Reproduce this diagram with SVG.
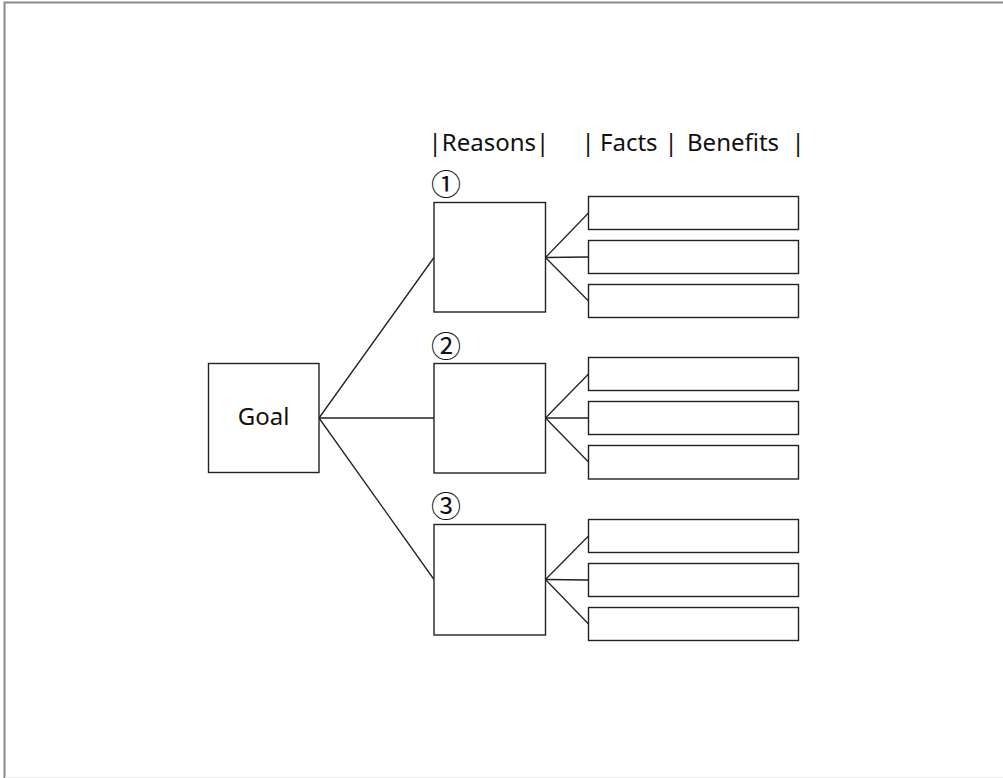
<svg xmlns="http://www.w3.org/2000/svg" width="1003" height="778" viewBox="0 0 1003 778">
  <style>
    .box { fill: #fff; stroke: #222; stroke-width: 1.4; }
    .link { stroke: #222; stroke-width: 1.3; fill: none; }
    .lbl { font-family: "Noto Sans", "Open Sans", "Liberation Sans", sans-serif; font-size: 24px; fill: #111; }
    .num { font-family: "Noto Sans CJK JP", "DejaVu Sans", sans-serif; font-size: 30px; fill: #111; text-anchor: middle; }
  </style>
  <rect width="1003" height="778" fill="#fff"/>
  <!-- frame -->
  <path d="M4.5 778 V2.5 H1003" fill="none" stroke="#8a8a8a" stroke-width="2"/>
  <line x1="5" y1="777.5" x2="1003" y2="777.5" stroke="#eee" stroke-width="1"/>

  <!-- column headers -->
  <g id="headers">
    <text class="lbl" x="428.5" y="151">|Reasons|</text>
    <text class="lbl" y="151"><tspan x="581.5">|</tspan><tspan x="600">Facts</tspan><tspan x="664.5">|</tspan><tspan x="687">Benefits</tspan><tspan x="791.5">|</tspan></text>
  </g>

  <!-- connectors -->
  <g id="connectors">
    <line class="link" x1="319" y1="418" x2="434" y2="257.5"/>
    <line class="link" x1="319" y1="418" x2="434" y2="418"/>
    <line class="link" x1="319" y1="418" x2="434" y2="579.5"/>

    <line class="link" x1="545.5" y1="257.5" x2="588.5" y2="213"/>
    <line class="link" x1="545.5" y1="257.5" x2="588.5" y2="257"/>
    <line class="link" x1="545.5" y1="257.5" x2="588.5" y2="301"/>

    <line class="link" x1="545.5" y1="418" x2="588.5" y2="374"/>
    <line class="link" x1="545.5" y1="418" x2="588.5" y2="418"/>
    <line class="link" x1="545.5" y1="418" x2="588.5" y2="462"/>

    <line class="link" x1="545.5" y1="579.5" x2="588.5" y2="536"/>
    <line class="link" x1="545.5" y1="579.5" x2="588.5" y2="580"/>
    <line class="link" x1="545.5" y1="579.5" x2="588.5" y2="624"/>
  </g>

  <g id="goal">
    <rect class="box" x="208.5" y="363.5" width="110.5" height="109"/>
    <text class="lbl" x="263.5" y="425" text-anchor="middle">Goal</text>
  </g>

  <g id="reason-1">
    <text class="num" x="446" y="194.5">①</text>
    <rect class="box" x="434" y="202.5" width="111.5" height="109.5"/>
  </g>
  <g id="reason-2">
    <text class="num" x="446" y="356.5">②</text>
    <rect class="box" x="434" y="363.5" width="111.5" height="109.5"/>
  </g>
  <g id="reason-3">
    <text class="num" x="446" y="516.5">③</text>
    <rect class="box" x="434" y="524.5" width="111.5" height="110.5"/>
  </g>

  <g id="facts-1">
    <rect class="box" x="588.5" y="196.5" width="210" height="33"/>
    <rect class="box" x="588.5" y="240.5" width="210" height="33"/>
    <rect class="box" x="588.5" y="284.5" width="210" height="33"/>
  </g>
  <g id="facts-2">
    <rect class="box" x="588.5" y="357.5" width="210" height="33"/>
    <rect class="box" x="588.5" y="401.5" width="210" height="33"/>
    <rect class="box" x="588.5" y="445.5" width="210" height="33.5"/>
  </g>
  <g id="facts-3">
    <rect class="box" x="588.5" y="519.5" width="210" height="33"/>
    <rect class="box" x="588.5" y="563.5" width="210" height="33"/>
    <rect class="box" x="588.5" y="607.5" width="210" height="33"/>
  </g>
</svg>
